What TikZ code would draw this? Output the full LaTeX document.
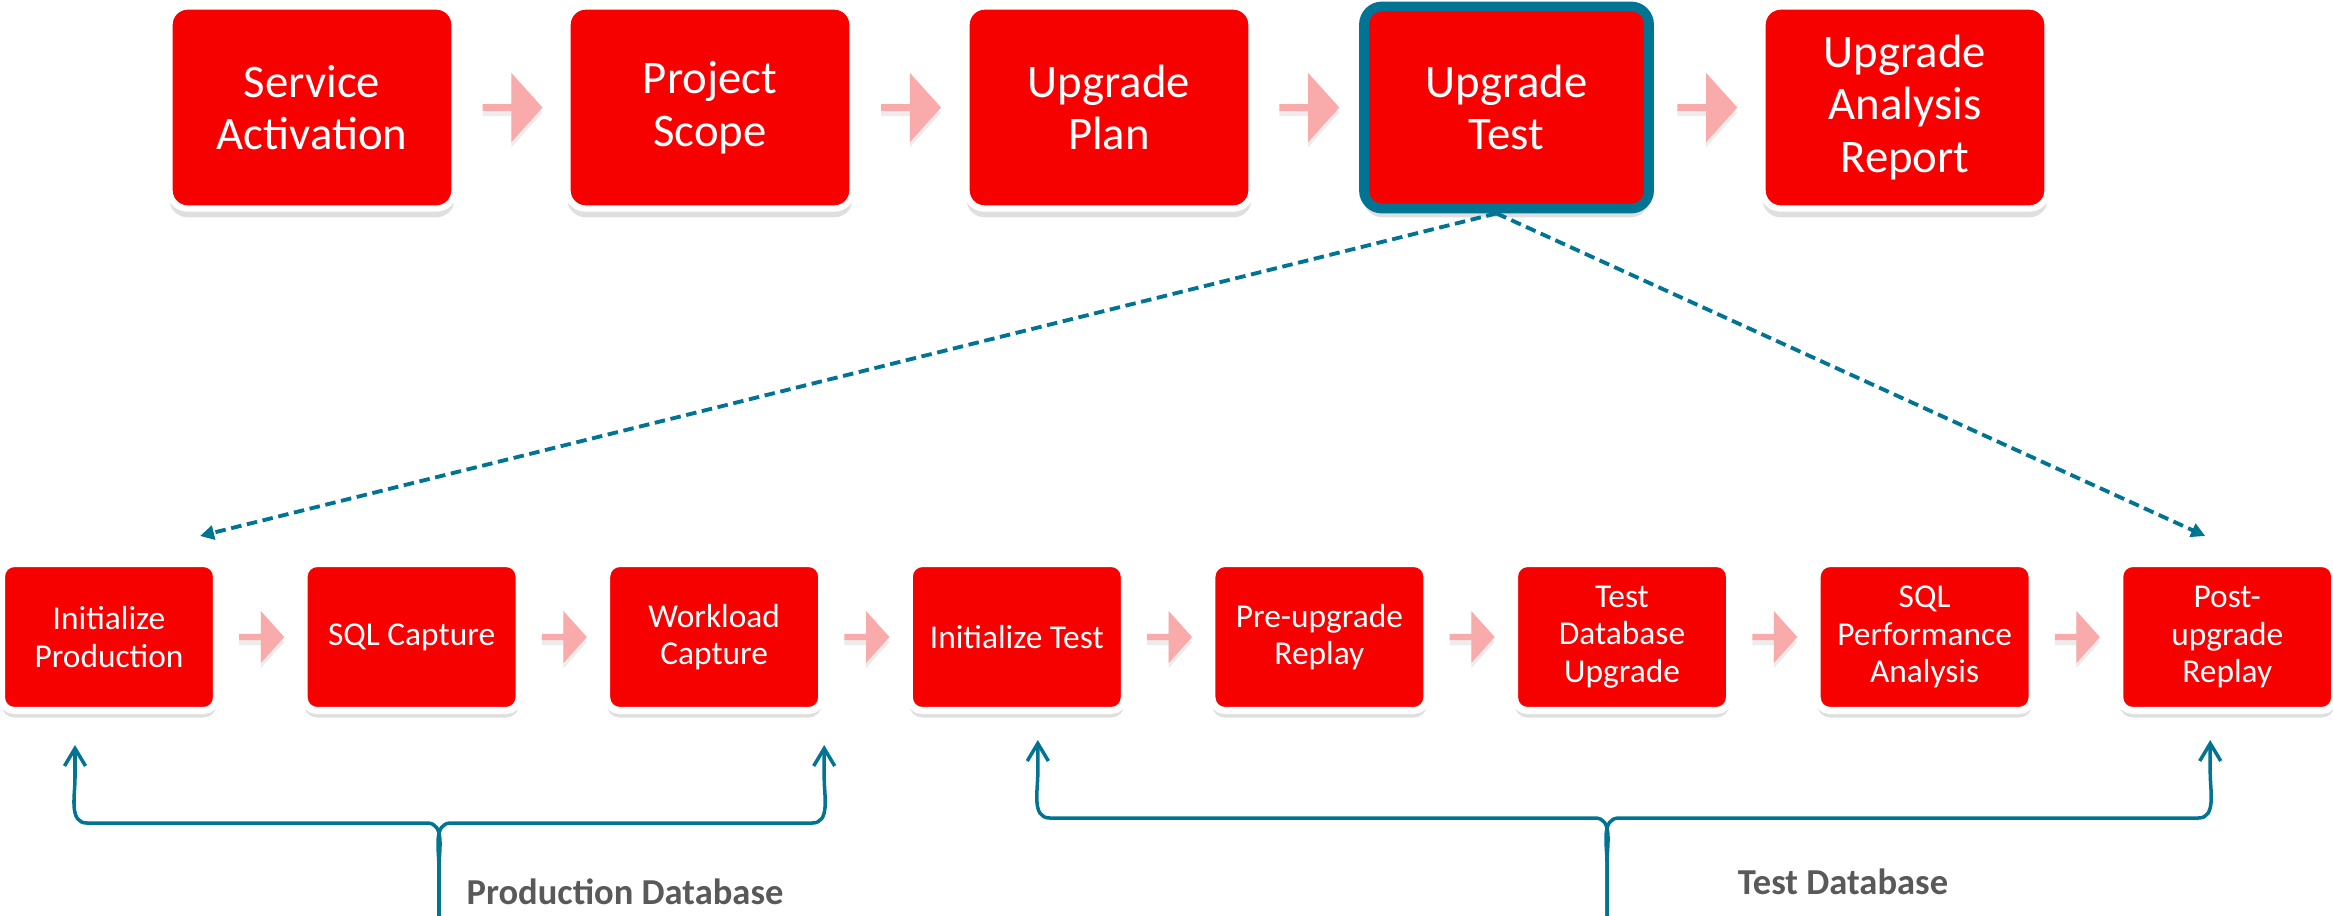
\documentclass[tikz,border=0pt]{standalone}
\usepackage{fontspec}
\setmainfont{Carlito}
\usepackage{tikz}
\usetikzlibrary{arrows.meta}
\usetikzlibrary{shapes.arrows}
\usetikzlibrary{shadows}
\usetikzlibrary{calc}

\definecolor{boxred}{RGB}{247,0,0}
\definecolor{flowpink}{RGB}{249,170,170}
\definecolor{dbteal}{RGB}{0,116,146}
\definecolor{labelgray}{RGB}{89,89,89}

\begin{document}
\begin{tikzpicture}[thick,>=Stealth,
    phase/.style={draw=white, line width=1.8pt, fill=boxred, rounded corners=1.8mm,
      minimum width=2.85cm, minimum height=2.02cm, align=center, text=white,
      font=\fontsize{13.3}{15}\selectfont,
      drop shadow={shadow xshift=0pt, shadow yshift=-2.5pt, opacity=0.25}},
    task/.style={draw=white, line width=2pt, fill=boxred, rounded corners=1.3mm,
      minimum width=2.15cm, minimum height=1.47cm, align=center, text=white,
      font=\fontsize{9.5}{10.7}\selectfont,
      drop shadow={shadow xshift=0pt, shadow yshift=-2pt, opacity=0.25}},
    bigflow/.style={single arrow, fill=flowpink, inner sep=0pt, minimum height=6mm,
      minimum width=6.9mm, single arrow head extend=1.3mm, single arrow tip angle=96,
      drop shadow={shadow xshift=0pt, shadow yshift=-1.5pt, opacity=0.15}},
    smallflow/.style={single arrow, fill=flowpink, inner sep=0pt, minimum height=4.5mm,
      minimum width=5.2mm, single arrow head extend=1mm, single arrow tip angle=96,
      drop shadow={shadow xshift=0pt, shadow yshift=-1.5pt, opacity=0.15}},
    zoomin/.style={draw=dbteal, line width=1.1pt, dash pattern=on 3pt off 1.6pt,
      -{Triangle[length=4pt,width=4pt]}},
    dbbrace/.style={draw=dbteal, line width=1pt, -{Straight Barb[length=5pt,width=6pt]}},
    dblabel/.style={text=labelgray, font=\fontsize{10.4}{12}\selectfont\bfseries}]
    \useasboundingbox (0,0) rectangle (23.33,-9.15);

    % service phases
    \node[phase] (sa) at (3.12,-1.075) {Service\\Activation};
    \node[phase] (ps) at (7.10,-1.075) {Project\\Scope};
    \node[phase] (up) at (11.09,-1.075) {Upgrade\\Plan};
    \node[phase, draw=dbteal, line width=2.8pt] (ut) at (15.065,-1.075) {Upgrade\\Test};
    \node[phase] (ur) at (19.05,-1.075) {Upgrade\\Analysis\\Report};

    \node[bigflow] (f1) at ($(sa)!0.5!(ps)$) {};
    \node[bigflow] (f2) at ($(ps)!0.5!(up)$) {};
    \node[bigflow] (f3) at ($(up)!0.5!(ut)$) {};
    \node[bigflow] (f4) at ($(ut)!0.5!(ur)$) {};

    % upgrade test steps
    \node[task] (ip) at (1.09,-6.37) {Initialize\\Production};
    \node[task] (sc) at (4.116,-6.37) {SQL Capture};
    \node[task] (wc) at (7.142,-6.37) {Workload\\Capture};
    \node[task] (it) at (10.168,-6.37) {Initialize Test};
    \node[task] (pre) at (13.194,-6.37) {Pre-upgrade\\Replay};
    \node[task] (tdu) at (16.22,-6.37) {Test\\Database\\Upgrade};
    \node[task] (spa) at (19.246,-6.37) {SQL\\Performance\\Analysis};
    \node[task] (pr) at (22.272,-6.37) {Post-\\upgrade\\Replay};

    \node[smallflow] (s1) at ($(ip)!0.5!(sc)$) {};
    \node[smallflow] (s2) at ($(sc)!0.5!(wc)$) {};
    \node[smallflow] (s3) at ($(wc)!0.5!(it)$) {};
    \node[smallflow] (s4) at ($(it)!0.5!(pre)$) {};
    \node[smallflow] (s5) at ($(pre)!0.5!(tdu)$) {};
    \node[smallflow] (s6) at ($(tdu)!0.5!(spa)$) {};
    \node[smallflow] (s7) at ($(spa)!0.5!(pr)$) {};

    \coordinate (ipin) at ([xshift=9.1mm,yshift=2.4mm]ip.north);
    \coordinate (prin) at ([xshift=-2.2mm,yshift=2.4mm]pr.north);
    \draw[zoomin] ([xshift=-1mm]ut.south) -- (ipin);
    \draw[zoomin] ([xshift=-1mm]ut.south) -- (prin);

    % production database
    \coordinate (pdl) at ([xshift=-3.4mm,yshift=-3.1mm]ip.south);
    \coordinate (pdr) at ([xshift=11mm,yshift=-3.1mm]wc.south);
    \coordinate (pdbar) at (4.39,-8.23);
    \coordinate (pdfoot) at (4.39,-9.25);
    \draw[dbbrace] (pdfoot) -- ($(pdbar)+(0,-0.45)$) to[out=90,in=0] ($(pdbar)+(-0.12,0)$)
      -- ($(pdbar -| pdl)+(0.12,0)$) to[out=180,in=-90] ($(pdbar -| pdl)+(0,0.45)$) -- (pdl);
    \draw[dbbrace] (pdfoot) -- ($(pdbar)+(0,-0.45)$) to[out=90,in=180] ($(pdbar)+(0.12,0)$)
      -- ($(pdbar -| pdr)+(-0.12,0)$) to[out=0,in=-90] ($(pdbar -| pdr)+(0,0.45)$) -- (pdr);
    \node[dblabel] (pdlabel) at (6.25,-8.92) {Production Database};

    % test database
    \coordinate (tdl) at ([xshift=2.1mm,yshift=-2.6mm]it.south);
    \coordinate (tdr) at ([xshift=-1.7mm,yshift=-2.6mm]pr.south);
    \coordinate (tdbar) at (16.07,-8.18);
    \coordinate (tdfoot) at (16.07,-9.25);
    \draw[dbbrace] (tdfoot) -- ($(tdbar)+(0,-0.45)$) to[out=90,in=0] ($(tdbar)+(-0.12,0)$)
      -- ($(tdbar -| tdl)+(0.12,0)$) to[out=180,in=-90] ($(tdbar -| tdl)+(0,0.45)$) -- (tdl);
    \draw[dbbrace] (tdfoot) -- ($(tdbar)+(0,-0.45)$) to[out=90,in=180] ($(tdbar)+(0.12,0)$)
      -- ($(tdbar -| tdr)+(-0.12,0)$) to[out=0,in=-90] ($(tdbar -| tdr)+(0,0.45)$) -- (tdr);
    \node[dblabel] (tdlabel) at (18.43,-8.82) {Test Database};
\end{tikzpicture}
\end{document}
